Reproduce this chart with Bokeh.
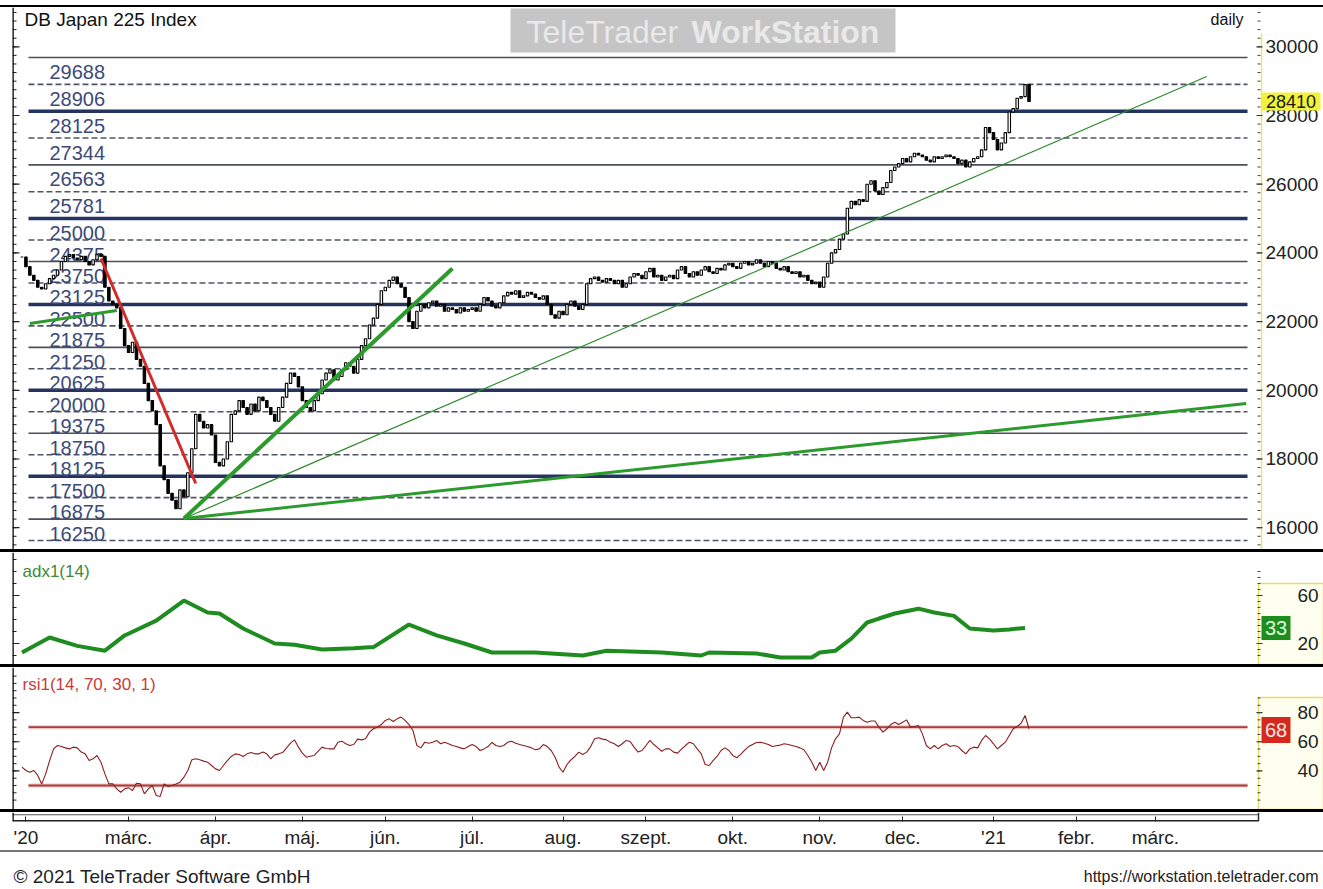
import pandas as pd
from bokeh.plotting import figure
from bokeh.models import Range1d, LinearAxis, FixedTicker, Span, ColumnDataSource, Div
from bokeh.layouts import column
from bokeh.embed import file_html
from bokeh.resources import INLINE
from bokeh.core.properties import value

FONT = "Liberation Sans"
W = 1323

# ------------------------------------------------------------------ data
first_date = "2020-01-23"

closes = [
    23880, 23600, 23350, 23200, 23000, 22950, 23100, 23250, 23350, 23500,
    23750, 23900, 23950, 23850, 23800, 23900, 23750, 23650, 23800, 23950,
    23900, 23000, 22600, 22500, 22400, 21800, 21300, 21100, 21400, 20900,
    20700, 20200, 19700, 19400, 19000, 17800, 17400, 17000, 16800, 16550,
    17100, 16900, 17600, 18300, 19300, 19100, 18900, 19000, 18700, 17900,
    17800, 18000, 18500, 19300, 19400, 19700, 19500, 19300, 19600, 19400,
    19800, 19700, 19500, 19300, 19100, 19500, 19800, 20200, 20500, 20400,
    20100, 19700, 19500, 19400, 19700, 19900, 20300, 20500, 20600, 20300,
    20400, 20600, 20800, 20700, 20500, 20900, 21300, 21500, 21900, 22100,
    22500, 22900, 23000, 23200, 23300, 23100, 23000, 22700, 22000, 21800,
    22300, 22500, 22400, 22550, 22600, 22450, 22500, 22300, 22400, 22350,
    22250, 22400, 22300, 22350, 22400, 22300, 22500, 22700, 22600, 22450,
    22400, 22550, 22750, 22850, 22800, 22900, 22700, 22750, 22850, 22800,
    22700, 22650, 22750, 22500, 22200, 22100, 22300, 22200, 22500, 22600,
    22450, 22350, 22500, 23100, 23250, 23300, 23200, 23150, 23250, 23200,
    23100, 23200, 23000, 23100, 23300, 23400, 23350, 23250, 23450, 23550,
    23300, 23350, 23200, 23300, 23350, 23250, 23500, 23600, 23400, 23300,
    23450, 23350, 23500, 23600, 23450, 23400, 23550, 23500, 23650, 23700,
    23600, 23550, 23700, 23750, 23650, 23700, 23800, 23700, 23600, 23750,
    23700, 23550, 23500, 23600, 23450, 23400, 23450, 23300, 23350, 23200,
    23100, 23150, 23000, 23300, 23700, 24000, 24100, 24400, 24550, 25300,
    25500, 25400, 25550, 25500, 26000, 26100, 25800, 25700, 25900, 26050,
    26400, 26500, 26600, 26750, 26650, 26800, 26900, 26850, 26800, 26700,
    26650, 26800, 26750, 26800, 26850, 26800, 26750, 26600, 26700, 26500,
    26650, 26750, 26800, 27000, 27650, 27500, 27300, 27000, 27200, 27500,
    28100, 28200, 28500, 28550, 28900, 28410,
]

rsi_values = [
    42.6, 40.3, 39.1, 40.3, 36.9, 31.1, 38.0, 47.1, 55.1, 57.4,
    56.7, 55.8, 55.1, 56.3, 55.8, 52.9, 51.7, 47.1, 48.3, 50.6,
    46.0, 38.0, 31.1, 31.1, 27.7, 25.4, 27.7, 28.4, 26.6, 31.6,
    31.1, 24.3, 27.7, 30.0, 23.1, 22.5, 31.1, 29.3, 30.0, 31.1,
    32.3, 35.7, 40.3, 47.6, 48.3, 47.6, 46.7, 46.0, 43.7, 41.4,
    40.3, 43.7, 47.1, 49.9, 51.7, 51.3, 49.9, 51.7, 52.6, 51.7,
    51.7, 52.9, 51.7, 48.3, 51.0, 51.7, 52.6, 55.8, 59.0, 61.3,
    56.3, 52.2, 49.4, 50.1, 50.6, 53.5, 56.3, 55.4, 55.1, 55.1,
    59.7, 60.4, 58.6, 57.4, 58.1, 61.8, 61.3, 62.0, 66.6, 68.9,
    70.0, 71.8, 74.6, 75.7, 73.9, 75.7, 76.9, 74.6, 71.8, 67.7,
    57.4, 55.8, 59.7, 59.0, 59.7, 60.9, 58.6, 59.7, 58.6, 57.4,
    56.7, 55.8, 55.1, 56.7, 58.1, 56.7, 54.0, 55.1, 56.7, 59.5,
    57.4, 56.7, 57.4, 59.7, 60.4, 59.0, 58.1, 57.4, 56.7, 55.8,
    54.5, 55.1, 58.1, 56.7, 54.0, 49.4, 42.6, 39.1, 44.4, 47.6,
    49.9, 52.9, 51.3, 52.9, 56.7, 62.0, 62.7, 61.8, 61.3, 59.7,
    58.6, 56.7, 58.6, 60.9, 60.2, 56.3, 52.9, 54.0, 57.4, 60.9,
    58.1, 55.8, 53.5, 55.1, 55.1, 52.9, 52.2, 54.9, 57.4, 59.7,
    58.6, 55.1, 51.7, 44.4, 43.7, 47.1, 49.9, 54.0, 55.8, 54.0,
    50.6, 49.0, 51.3, 54.3, 56.7, 58.1, 59.5, 59.7, 59.0, 58.1,
    56.7, 57.2, 57.7, 58.6, 58.1, 57.4, 56.7, 55.8, 54.5, 50.6,
    46.0, 40.3, 46.0, 40.3, 46.0, 55.8, 62.0, 65.4, 76.9, 80.3,
    76.4, 76.4, 76.9, 74.6, 73.4, 74.2, 74.2, 70.0, 66.6, 68.9,
    71.8, 73.4, 71.8, 73.4, 75.0, 70.0, 70.5, 71.1, 65.4, 57.4,
    55.1, 57.4, 55.1, 57.4, 58.6, 56.7, 57.4, 56.7, 54.0, 51.7,
    55.1, 56.3, 55.8, 60.9, 64.3, 62.0, 58.6, 55.1, 57.4, 59.7,
    64.3, 68.9, 70.5, 72.7, 78.0, 68.9,
]

adx_dates = [
    "2020-01-23", "2020-02-03", "2020-02-12", "2020-02-21", "2020-02-28",
    "2020-03-11", "2020-03-20", "2020-03-30", "2020-04-02", "2020-04-10",
    "2020-04-22", "2020-04-29", "2020-05-08", "2020-05-20", "2020-05-27",
    "2020-06-09", "2020-06-18", "2020-06-29", "2020-07-08", "2020-07-23",
    "2020-08-10", "2020-08-18", "2020-09-07", "2020-09-21", "2020-09-23",
    "2020-10-09", "2020-10-19", "2020-10-29", "2020-11-02", "2020-11-06",
    "2020-11-12", "2020-11-18", "2020-11-23", "2020-11-27", "2020-12-07",
    "2020-12-11", "2020-12-18", "2020-12-24", "2021-01-01", "2021-01-07",
    "2021-01-13",
]
adx_values = [
    12.5, 25.0, 18.0, 14.0, 26.7,
    39.0, 55.8, 45.8, 45.0, 32.5,
    20.0, 19.0, 15.0, 16.0, 17.0,
    35.8, 26.7, 20.0, 12.5, 12.5,
    10.0, 14.0, 12.5, 10.0, 12.5,
    11.7, 8.3, 8.3, 12.5, 14.0,
    24.0, 37.5, 40.8, 45.0, 49.0,
    45.8, 43.0, 32.5, 30.8, 31.7,
    33.0,
]

levels = [29688, 28906, 28125, 27344, 26563, 25781, 25000, 24375, 23750, 23125, 22500,
          21875, 21250, 20625, 20000, 19375, 18750, 18125, 17500, 16875, 16250, 15625]
level_kinds = ["solid", "dash", "thick", "dash", "solid", "dash", "thick", "dash", "solid", "dash", "thick",
               "dash", "solid", "dash", "thick", "dash", "solid", "dash", "thick", "dash", "solid", "dash"]
labelled_levels = levels[:-1]

price_ticks = [16000, 18000, 20000, 22000, 24000, 26000, 28000, 30000]
price_minor = list(range(15500, 31001, 250))
adx_ticks = [20, 60]
adx_minor = list(range(10, 91, 10))
rsi_ticks = [40, 60, 80]
rsi_minor = list(range(20, 106, 5))
rsi_bands = [70, 30]

month_tick_dates = ["2020-01-24", "2020-03-02", "2020-04-01", "2020-05-01", "2020-06-01", "2020-07-01",
                    "2020-08-03", "2020-09-01", "2020-10-01", "2020-11-02", "2020-12-01", "2021-01-01",
                    "2021-02-01", "2021-03-01"]
month_tick_labels = ["'20", "márc.", "ápr.", "máj.", "jún.", "júl.", "aug.", "szept.", "okt.", "nov.",
                     "dec.", "'21", "febr.", "márc."]

red_trend_dates = ["2020-02-20", "2020-03-25"]
red_trend_values = [23836, 17286]
green_fast_dates = ["2020-03-20", "2020-06-24"]
green_fast_values = [16267, 23545]
green_thin_dates = ["2020-03-20", "2021-03-18"]
green_thin_values = [16267, 29135]
green_slow_dates = ["2020-03-20", "2021-04-01"]
green_slow_values = [16267, 19615]
green_left_dates = ["2020-01-27", "2020-02-26"]
green_left_values = [21944, 22323]

last_price = 28410
last_adx = 33
last_rsi = 68

# ------------------------------------------------------------------ helpers
cal = pd.bdate_range(first_date, "2021-04-30")


def pos(dates):
    return [int(i) for i in cal.get_indexer(pd.to_datetime(dates), method="bfill")]


XS, XE = -2.4, 312.6          # data x at page px 12 and px 1256
FL, FR = 12, 1256


def px2x(px):
    return XS + (px - FL) * (XE - XS) / (FR - FL)


XFULL = px2x(W)


def make_py(top_px, bot_px, vtop, vbot):
    return lambda py: vtop - (py - top_px) * (vtop - vbot) / (bot_px - top_px)


MAIN_TOP, MAIN_BOT, MAIN_V0, MAIN_V1 = 7, 549, 31144, 15365
ADX_TOP, ADX_BOT, ADX_V0, ADX_V1 = 552, 664, 95.8, 2.5
RSI_TOP, RSI_BOT, RSI_V0, RSI_V1 = 667, 809, 110.9, 13.55
py_main = make_py(MAIN_TOP, MAIN_BOT, MAIN_V0, MAIN_V1)
py_adx = make_py(ADX_TOP, ADX_BOT, ADX_V0, ADX_V1)
py_rsi = make_py(RSI_TOP, RSI_BOT, RSI_V0, RSI_V1)

x_range = Range1d(XS, XFULL)


def panel(height, y0, y1):
    f = figure(width=W, height=height, x_range=x_range, y_range=Range1d(y1, y0),
               output_backend="svg", toolbar_location=None,
               x_axis_location=None, y_axis_location=None,
               min_border_left=FL, min_border_right=0, min_border_top=0, min_border_bottom=0,
               outline_line_color=None, background_fill_color="white", border_fill_color="white")
    f.grid.visible = False
    return f


def left_scale(f, ticks, minor):
    f.add_layout(Span(location=XS, dimension="height", line_color="black", line_width=2.5))
    f.segment(x0=XS, x1=px2x(19), y0=ticks, y1=ticks, line_color="#222222", line_width=1.2)
    f.segment(x0=XS, x1=px2x(16), y0=minor, y1=minor, line_color="#222222", line_width=1)


def right_scale(f, ticks, minor, label_px, font_px):
    f.segment(x0=px2x(1256), x1=px2x(1262), y0=ticks, y1=ticks, line_color="#333333", line_width=1.2)
    f.segment(x0=px2x(1257), x1=px2x(1260), y0=minor, y1=minor, line_color="#444444", line_width=1)
    f.text(x=px2x(label_px), y=ticks, text=[str(t) for t in ticks], text_baseline="middle",
           text_align="left", text_font=value(FONT), text_font_size=font_px, text_color="#222222")


def value_box(f, v, half_h, x0px, x1px, txt, bg, fg, size):
    f.quad(left=px2x(x0px), right=px2x(x1px), top=v + half_h, bottom=v - half_h,
           fill_color=bg, line_color=None)
    f.text(x=(px2x(x0px) + px2x(x1px)) / 2, y=v, text=[txt], text_baseline="middle", text_align="center",
           text_font=value(FONT), text_font_size=size, text_color=fg)


def sep(h, color="black"):
    return Div(width=W, height=h, margin=0, styles={"background-color": color})


lx0, lx1 = px2x(28), px2x(1247)

# ------------------------------------------------------------------ main price panel
p = panel(MAIN_BOT - MAIN_TOP, MAIN_V0, MAIN_V1)
unit = (MAIN_V0 - MAIN_V1) / (MAIN_BOT - MAIN_TOP)
left_scale(p, price_ticks, price_minor)
p.segment(x0=px2x(1261), x1=px2x(1261), y0=py_main(33), y1=MAIN_V1, line_color="#ece27a", line_width=1.5)
right_scale(p, price_ticks, price_minor, 1265, "19px")

# watermark
p.quad(left=px2x(510), right=px2x(895), top=py_main(8), bottom=py_main(52),
       fill_color="#c5c5c5", line_color=None)
p.text(x=px2x(526), y=py_main(31), text=["TeleTrader"], text_baseline="middle",
       text_font=value(FONT), text_font_size="32px", text_color="#e9e9e9")
p.text(x=px2x(691), y=py_main(31), text=["WorkStation"], text_baseline="middle",
       text_font=value(FONT), text_font_size="32px", text_font_style="bold", text_color="#e9e9e9")

styles = {
    "thick": dict(line_color="#24345f", line_width=3.5, line_dash="solid"),
    "solid": dict(line_color="#4a4f5a", line_width=1.6, line_dash="solid"),
    "dash": dict(line_color="#4f5663", line_width=1.6, line_dash="6 3"),
}
for kind, st in styles.items():
    ys = [lv for lv, k in zip(levels, level_kinds) if k == kind]
    p.segment(x0=lx0, x1=lx1, y0=ys, y1=ys, **st)

p.text(x=px2x(49), y=[lv - 14.5 * unit for lv in labelled_levels], text=[str(lv) for lv in labelled_levels],
       text_baseline="middle", text_align="left", text_font=value(FONT),
       text_font_size="20px", text_color="#3c4a78")

# candles
n = len(closes)
opens = [closes[0]] + closes[:-1]
src = ColumnDataSource(dict(
    x=list(range(n)),
    top=[max(o, c) for o, c in zip(opens, closes)],
    bottom=[min(o, c) for o, c in zip(opens, closes)],
    fill=["white" if c >= o else "black" for o, c in zip(opens, closes)],
))
p.vbar(x="x", top="top", bottom="bottom", width=0.62, fill_color="fill",
       line_color="black", line_width=1.1, source=src)

# trend lines
p.line(pos(green_slow_dates), green_slow_values, line_color="#2c9a2c", line_width=3)
p.line(pos(green_thin_dates), green_thin_values, line_color="#2e8b2e", line_width=1.2)
p.line(pos(green_fast_dates), green_fast_values, line_color="#2c9a2c", line_width=4)
p.line(pos(green_left_dates), green_left_values, line_color="#2c9a2c", line_width=3)
p.line(pos(red_trend_dates), red_trend_values, line_color="#d42a2a", line_width=3)

p.text(x=px2x(24), y=py_main(19), text=["DB Japan 225 Index"], text_baseline="middle",
       text_font=value(FONT), text_font_size="19px", text_color="#111111")
p.text(x=px2x(1243), y=py_main(19), text=["daily"], text_baseline="middle", text_align="right",
       text_font=value(FONT), text_font_size="16px", text_color="#111111")
value_box(p, last_price, 9 * unit, 1261, 1320, str(last_price), "#f2f23a", "#1a1a1a", "18px")

# ------------------------------------------------------------------ ADX panel
pa = panel(ADX_BOT - ADX_TOP, ADX_V0, ADX_V1)
ua = (ADX_V0 - ADX_V1) / (ADX_BOT - ADX_TOP)
left_scale(pa, adx_ticks, adx_minor)
pa.quad(left=px2x(1258), right=XFULL, top=py_adx(583), bottom=ADX_V1,
        fill_color="#fffff0", line_color="#e6dc6e", line_width=1.5)
right_scale(pa, adx_ticks, list(range(10, 81, 5)), 1297, "19px")
pa.line(pos(adx_dates), adx_values, line_color="#1f8c1f", line_width=4)
pa.text(x=px2x(22), y=py_adx(571), text=["adx1(14)"], text_baseline="middle",
        text_font=value(FONT), text_font_size="17px", text_color="#3a8a3a")
value_box(pa, last_adx, 12 * ua, 1261, 1290, str(last_adx), "#1f8c1f", "#dfffdf", "20px")

# ------------------------------------------------------------------ RSI panel
pr = panel(RSI_BOT - RSI_TOP, RSI_V0, RSI_V1)
ur = (RSI_V0 - RSI_V1) / (RSI_BOT - RSI_TOP)
left_scale(pr, rsi_ticks, rsi_minor)
pr.quad(left=px2x(1258), right=XFULL, top=py_rsi(697), bottom=RSI_V1,
        fill_color="#fffff0", line_color="#e6dc6e", line_width=1.5)
right_scale(pr, rsi_ticks, list(range(20, 91, 5)), 1297, "19px")
pr.segment(x0=lx0, x1=lx1, y0=rsi_bands, y1=rsi_bands, line_color="#f2c4c4", line_width=4)
pr.segment(x0=lx0, x1=lx1, y0=rsi_bands, y1=rsi_bands, line_color="#a8403f", line_width=1.8)
pr.line(list(range(len(rsi_values))), rsi_values, line_color="#8b1e1e", line_width=1.1)
pr.text(x=px2x(22), y=py_rsi(684), text=["rsi1(14, 70, 30, 1)"], text_baseline="middle",
        text_font=value(FONT), text_font_size="17px", text_color="#cc3a3a")
value_box(pr, last_rsi, 13 * ur, 1261, 1290, str(last_rsi), "#d42a1e", "#ffe6e6", "20px")

# ------------------------------------------------------------------ time axis
px_ = figure(width=W, height=38, x_range=x_range, y_range=Range1d(0, 1),
             output_backend="svg", toolbar_location=None,
             x_axis_location=None, y_axis_location=None,
             min_border_left=FL, min_border_right=0, min_border_top=0, min_border_bottom=0,
             outline_line_color=None, background_fill_color="white", border_fill_color="white")
px_.grid.visible = False
tick_pos = pos(month_tick_dates)
xa = LinearAxis(ticker=FixedTicker(ticks=tick_pos, minor_ticks=[]),
                major_label_overrides={t: lab for t, lab in zip(tick_pos, month_tick_labels)},
                axis_line_color=None,
                major_tick_in=5, major_tick_out=0, major_tick_line_color="#222222",
                major_label_standoff=5, major_label_text_font=FONT,
                major_label_text_font_size="19px", major_label_text_color="#222222")
px_.add_layout(xa, "below")
px_.segment(x0=XS, x1=px2x(1258), y0=0.06, y1=0.06, line_color="#222222", line_width=2)
px_.segment(x0=XS, x1=px2x(1258), y0=0.75, y1=0.75, line_color="#555555", line_width=1.2)
px_.add_layout(Span(location=XS, dimension="height", line_color="black", line_width=2.5))
px_.segment(x0=px2x(1258), x1=px2x(1258), y0=0, y1=1, line_color="#333333", line_width=1.5)

# ------------------------------------------------------------------ footer
pf = figure(width=W, height=37, x_range=Range1d(FL, W), y_range=Range1d(889, 852),
            output_backend="svg", toolbar_location=None,
            x_axis_location=None, y_axis_location=None,
            min_border_left=FL, min_border_right=0, min_border_top=0, min_border_bottom=0,
            outline_line_color=None, background_fill_color="white", border_fill_color="white")
pf.grid.visible = False
pf.text(x=[13], y=[876], text=["© 2021 TeleTrader Software GmbH"], text_baseline="middle",
        text_font=value(FONT), text_font_size="19px", text_color="#222222")
pf.text(x=[1318], y=[876], text=["https://workstation.teletrader.com"], text_baseline="middle",
        text_align="right", text_font=value(FONT), text_font_size="16px", text_color="#222222")

top_bar = Div(width=W, height=7, margin=0,
              styles={"background": "linear-gradient(#ffffff 0px, #ffffff 5px, #000000 5px, #000000 7px)"})

layout = column(top_bar, p, sep(3), pa, sep(3), pr, sep(3), px_, sep(2, "#777777"), pf, spacing=0)

open("out.html", "w").write(file_html(layout, INLINE, title="DB Japan 225 Index"))
